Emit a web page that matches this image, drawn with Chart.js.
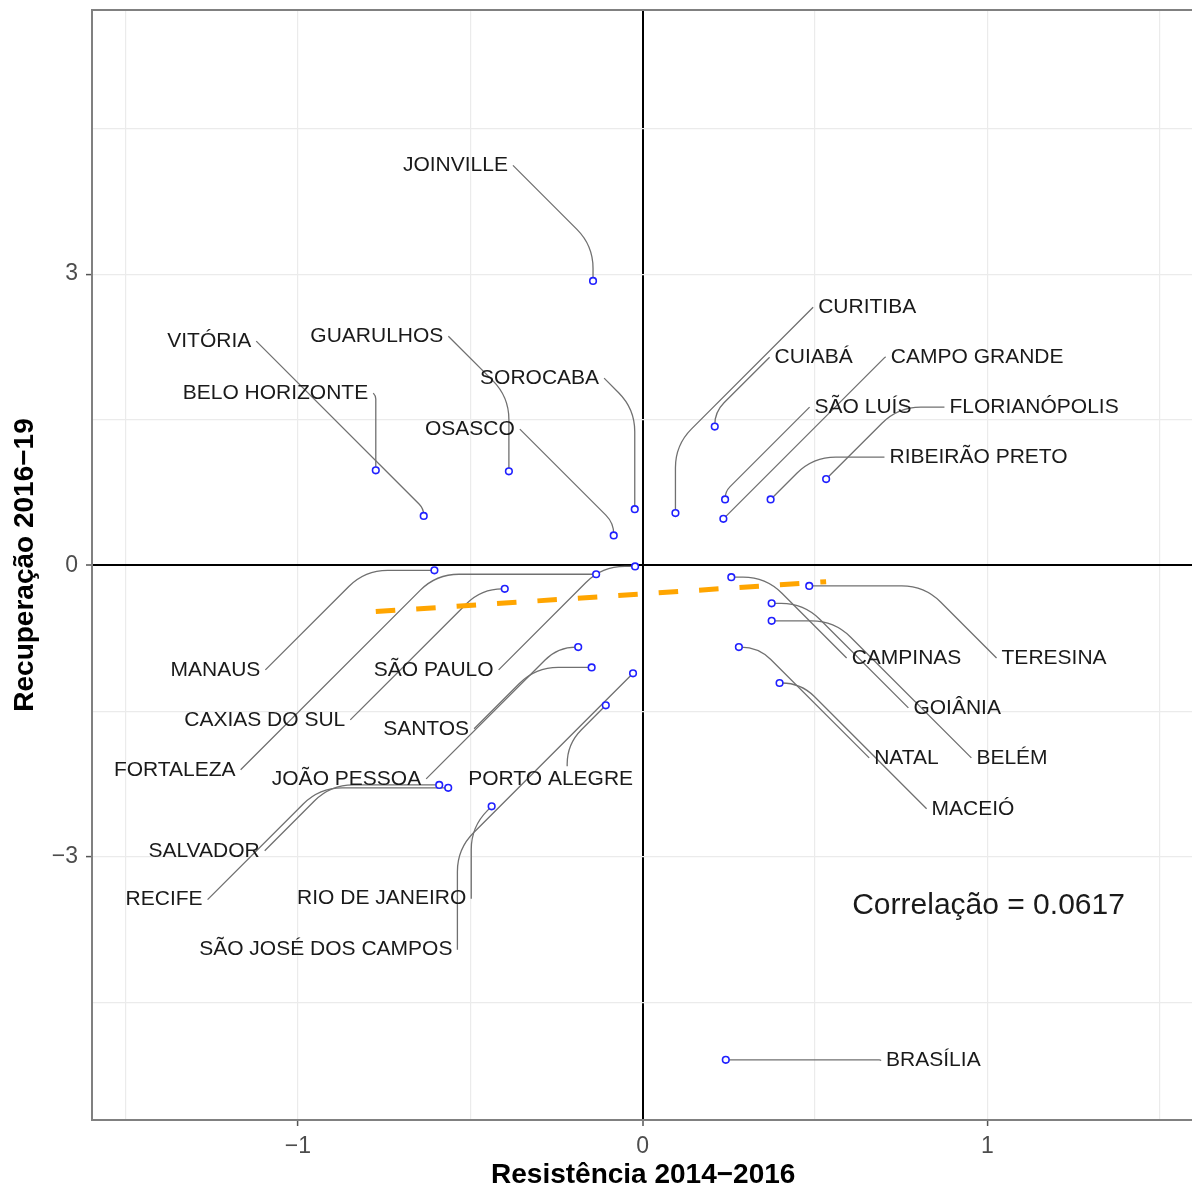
<!DOCTYPE html>
<html>
<head>
<meta charset="utf-8">
<script src="https://cdn.jsdelivr.net/npm/chart.js@4.4.1/dist/chart.umd.min.js"></script>
<style>
  html, body { margin: 0; padding: 0; background: #ffffff; overflow: hidden; width: 1192px; height: 1189px; }
  canvas { display: block; }
</style>
</head>
<body>
<canvas id="c" width="1200" height="1189"></canvas>
<script>
// Cities and their scores
const cities = ['JOINVILLE', 'VITÓRIA', 'BELO HORIZONTE', 'GUARULHOS', 'SOROCABA', 'OSASCO',
  'CURITIBA', 'CUIABÁ', 'SÃO LUÍS', 'CAMPO GRANDE', 'RIBEIRÃO PRETO', 'FLORIANÓPOLIS',
  'MANAUS', 'FORTALEZA', 'SÃO PAULO', 'CAXIAS DO SUL', 'JOÃO PESSOA', 'SANTOS', 'PORTO ALEGRE',
  'SÃO JOSÉ DOS CAMPOS', 'RIO DE JANEIRO', 'SALVADOR', 'RECIFE',
  'CAMPINAS', 'TERESINA', 'GOIÂNIA', 'BELÉM', 'NATAL', 'MACEIÓ', 'BRASÍLIA'];

const resistencia = [-0.144, -0.635, -0.774, -0.388, -0.023, -0.084,
  0.095, 0.209, 0.239, 0.234, 0.371, 0.532,
  -0.604, -0.135, -0.022, -0.400, -0.187, -0.148, -0.107,
  -0.028, -0.438, -0.590, -0.564,
  0.257, 0.483, 0.374, 0.374, 0.279, 0.397, 0.241];

const recuperacao = [2.93, 0.51, 0.98, 0.97, 0.58, 0.31,
  0.54, 1.43, 0.68, 0.48, 0.68, 0.89,
  -0.05, -0.09, -0.01, -0.24, -0.84, -1.05, -1.44,
  -1.11, -2.48, -2.26, -2.29,
  -0.12, -0.21, -0.39, -0.57, -0.84, -1.21, -5.09];

// Linear fit drawn across the range of the data
const trendX = [-0.774, 0.532];
const trendY = [-0.475, -0.167];

const correlationText = 'Correlação = 0.0617';

// Axis ticks: grid every 0.5 / 1.5, labels on the major ones only
const xTicks = [-1.5, -1, -0.5, 0, 0.5, 1, 1.5];
const xMajor = [-1, 0, 1];
const xMajorLabels = ['−1', '0', '1'];
const yTicks = [-4.5, -3, -1.5, 0, 1.5, 3, 4.5];
const yMajor = [-3, 0, 3];
const yMajorLabels = ['−3', '0', '3'];

// Layout of the repelled city labels (text centre, in axis units) and the side the leader leaves from
const labelX = [-0.543, -1.257, -1.065, -0.771, -0.299, -0.501,
  0.651, 0.496, 0.639, 0.970, 0.974, 1.135,
  -1.239, -1.357, -0.606, -1.096, -0.859, -0.628, -0.267,
  -0.919, -0.757, -1.272, -1.388,
  0.765, 1.193, 0.912, 1.071, 0.765, 0.958, 0.843];
const labelY = [4.120, 2.310, 1.775, 2.361, 1.929, 1.404,
  2.659, 2.145, 1.631, 2.145, 1.116, 1.631,
  -1.075, -2.104, -1.075, -1.590, -2.197, -1.682, -2.197,
  -3.956, -3.431, -2.937, -3.441,
  -0.952, -0.952, -1.466, -1.981, -1.981, -2.505, -5.098];
const labelSide = ['R', 'R', 'R', 'R', 'R', 'R',
  'L', 'L', 'L', 'L', 'L', 'L',
  'R', 'R', 'R', 'R', 'R', 'R', 'T',
  'R', 'R', 'R', 'R',
  'L', 'L', 'L', 'L', 'L', 'L', 'L'];

const FONT = '"Liberation Sans", Arial, Helvetica, sans-serif';
const LABEL_FONT = '21px ' + FONT;
const PANEL_BORDER = '#808080';

function near(v, list) { return list.findIndex(m => Math.abs(m - v) < 1e-9); }

// Leader: straight run along the top end, 45° diagonal, vertical run at the bottom end, rounded corner
function leader(ctx, ax, ay, bx, by) {
  let U, D;
  if (ay <= by) { U = [ax, ay]; D = [bx, by]; } else { U = [bx, by]; D = [ax, ay]; }
  const dx = D[0] - U[0], dy = D[1] - U[1];
  const sx = Math.sign(dx) || 1, adx = Math.abs(dx);
  const K = adx >= dy ? [U[0] + sx * (adx - dy), U[1]] : [D[0], U[1] + adx];
  const l1 = Math.hypot(K[0] - U[0], K[1] - U[1]);
  const l2 = Math.hypot(D[0] - K[0], D[1] - K[1]);
  const m = Math.min(l1, l2);
  ctx.beginPath();
  ctx.moveTo(U[0], U[1]);
  if (m > 0.5) {
    const r = Math.min(55, 0.9 * m / 0.4142);
    ctx.arcTo(K[0], K[1], D[0], D[1], r);
  }
  ctx.lineTo(D[0], D[1]);
  ctx.stroke();
}

const annotations = {
  id: 'annotations',
  beforeDatasetsDraw(chart) {
    const { ctx, chartArea: a, scales: { x, y } } = chart;
    ctx.save();
    // remaining sides of the panel frame
    ctx.strokeStyle = PANEL_BORDER;
    ctx.lineWidth = 2;
    ctx.beginPath();
    ctx.moveTo(a.left, a.top);
    ctx.lineTo(a.right, a.top);
    ctx.lineTo(a.right, a.bottom);
    ctx.stroke();

    // leader lines from labels to points
    ctx.font = LABEL_FONT;
    ctx.strokeStyle = '#707070';
    ctx.lineWidth = 1.3;
    cities.forEach((name, i) => {
      const px = x.getPixelForValue(resistencia[i]);
      const py = y.getPixelForValue(recuperacao[i]);
      const cx = x.getPixelForValue(labelX[i]);
      const cy = y.getPixelForValue(labelY[i]);
      const w = ctx.measureText(name).width;
      let ax, ay;
      if (labelSide[i] === 'R') { ax = cx + w / 2 + 5; ay = cy; }
      else if (labelSide[i] === 'L') { ax = cx - w / 2 - 5; ay = cy; }
      else { ax = cx + (px - cx) * 0.3; ay = cy - 12.5; }
      leader(ctx, ax, ay, px, py);
    });
    ctx.restore();
  },
  afterDatasetsDraw(chart) {
    const { ctx, scales: { x, y } } = chart;
    ctx.save();
    ctx.fillStyle = '#1a1a1a';
    ctx.textAlign = 'center';
    ctx.textBaseline = 'middle';
    ctx.font = LABEL_FONT;
    cities.forEach((name, i) => {
      ctx.fillText(name, x.getPixelForValue(labelX[i]), y.getPixelForValue(labelY[i]));
    });
    ctx.font = '30px ' + FONT;
    ctx.fillText(correlationText, x.getPixelForValue(1.003), y.getPixelForValue(-3.503));
    ctx.restore();
  }
};

const gridColor = c => (c.tick && Math.abs(c.tick.value) < 1e-9) ? '#000000' : '#ebebeb';
const gridWidth = c => (c.tick && Math.abs(c.tick.value) < 1e-9) ? 2 : 1.2;

new Chart(document.getElementById('c'), {
  type: 'scatter',
  data: {
    datasets: [
      {
        data: resistencia.map((v, i) => ({ x: v, y: recuperacao[i] })),
        pointStyle: 'circle',
        pointRadius: 3.3,
        pointBorderWidth: 1.6,
        pointBorderColor: '#2020ff',
        pointBackgroundColor: '#ffffff',
        showLine: false,
        order: 0
      },
      {
        type: 'line',
        data: trendX.map((v, i) => ({ x: v, y: trendY[i] })),
        borderColor: '#ffa500',
        borderWidth: 5,
        borderDash: [19.5, 21],
        borderCapStyle: 'butt',
        pointRadius: 0,
        fill: false,
        tension: 0,
        order: 1
      }
    ]
  },
  options: {
    responsive: false,
    animation: false,
    devicePixelRatio: 1,
    events: [],
    layout: { padding: { top: 10, right: 5, left: 0, bottom: 0 } },
    plugins: { legend: { display: false }, tooltip: { enabled: false } },
    scales: {
      x: {
        type: 'linear',
        min: -1.597,
        max: 1.6,
        afterBuildTicks: s => { s.ticks = xTicks.map(v => ({ value: v })); },
        afterFit: s => { s.height = 69; s.paddingLeft = 0; s.paddingRight = 0; },
        ticks: {
          autoSkip: false,
          maxRotation: 0,
          padding: 7,
          color: '#4d4d4d',
          font: { family: FONT, size: 23 },
          callback: v => { const k = near(v, xMajor); return k >= 0 ? xMajorLabels[k] : ''; }
        },
        grid: {
          color: gridColor,
          lineWidth: gridWidth,
          drawTicks: true,
          tickLength: 6,
          tickWidth: 1.5,
          tickColor: c => (c.tick && near(c.tick.value, xMajor) >= 0) ? '#555555' : 'rgba(0,0,0,0)'
        },
        border: { display: true, color: PANEL_BORDER, width: 2 },
        title: {
          display: true,
          text: 'Resistência 2014−2016',
          color: '#000000',
          padding: 0,
          font: { family: FONT, size: 28, weight: 'bold', lineHeight: 1 }
        }
      },
      y: {
        type: 'linear',
        min: -5.71,
        max: 5.72,
        afterBuildTicks: s => { s.ticks = yTicks.map(v => ({ value: v })); },
        afterFit: s => { s.width = 92; s.paddingTop = 0; s.paddingBottom = 0; },
        ticks: {
          autoSkip: false,
          padding: 8,
          color: '#4d4d4d',
          font: { family: FONT, size: 23 },
          callback: v => { const k = near(v, yMajor); return k >= 0 ? yMajorLabels[k] : ''; }
        },
        grid: {
          color: gridColor,
          lineWidth: gridWidth,
          drawTicks: true,
          tickLength: 6,
          tickWidth: 1.5,
          tickColor: c => (c.tick && near(c.tick.value, yMajor) >= 0) ? '#555555' : 'rgba(0,0,0,0)'
        },
        border: { display: true, color: PANEL_BORDER, width: 2 },
        title: {
          display: true,
          text: 'Recuperação 2016−19',
          color: '#000000',
          padding: { top: 11, bottom: 0 },
          font: { family: FONT, size: 28, weight: 'bold', lineHeight: 1 }
        }
      }
    }
  },
  plugins: [annotations]
});
</script>
</body>
</html>
